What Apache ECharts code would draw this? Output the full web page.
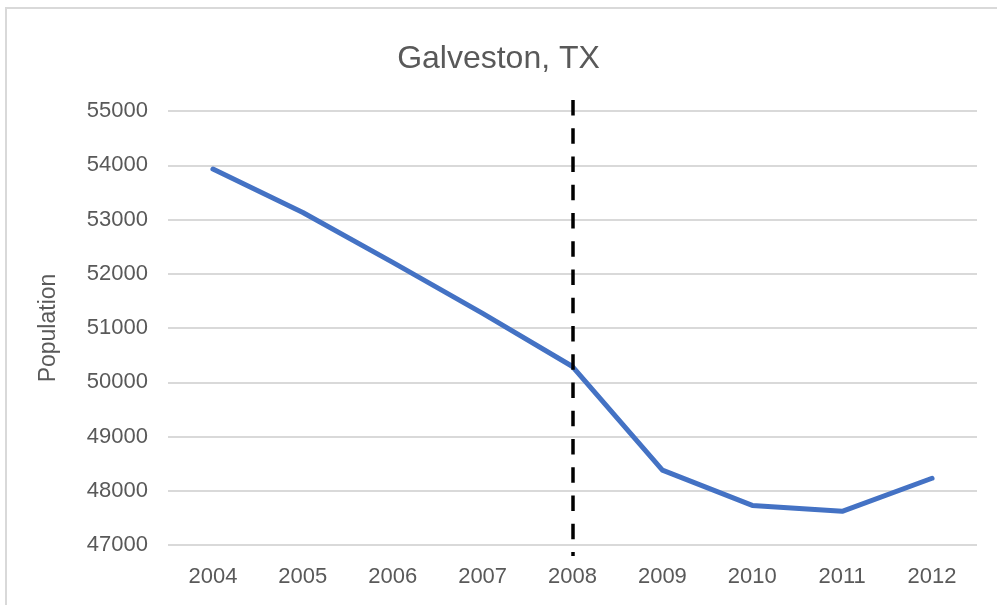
<!DOCTYPE html>
<html>
<head>
<meta charset="utf-8">
<script src="https://cdn.jsdelivr.net/npm/echarts@6/dist/echarts.min.js"></script>
<style>
html,body{margin:0;padding:0;background:#fff;}
#chart{width:997px;height:605px;}
</style>
</head>
<body>
<div id="chart"></div>
<script>
const years = ['2004','2005','2006','2007','2008','2009','2010','2011','2012'];
const population = [53930, 53130, 52210, 51270, 50290, 48380, 47730, 47620, 48230];
const markerYear = '2008';
const markerRange = [55200, 46800];
const yMin = 47000, yMax = 55000, yStep = 1000;

const chart = echarts.init(document.getElementById('chart'));
const textColor = '#595959';
const font = '"Liberation Sans", Arial, sans-serif';
chart.setOption({
  animation: false,
  backgroundColor: '#fff',
  graphic: [{
    type: 'rect', z: -10, silent: true,
    shape: {x: 6, y: 8, width: 1200, height: 800},
    style: {fill: 'none', stroke: '#d9d9d9', lineWidth: 2}
  }],
  title: {
    text: 'Galveston, TX',
    left: 'center',
    top: 38,
    textStyle: {color: textColor, fontFamily: font, fontSize: 32, fontWeight: 'normal'}
  },
  grid: [
    {left: 168, right: 20, top: 111, bottom: 60, containLabel: false},
    {left: 168, right: 20, top: 100, bottom: 49, containLabel: false}
  ],
  xAxis: [{
    type: 'category',
    gridIndex: 0,
    data: years,
    boundaryGap: true,
    axisLine: {show: false},
    axisTick: {show: false},
    axisLabel: {color: textColor, fontFamily: font, fontSize: 22, margin: 21}
  }, {
    type: 'category',
    gridIndex: 1,
    data: years,
    boundaryGap: true,
    show: false
  }],
  yAxis: [{
    type: 'value',
    gridIndex: 0,
    min: yMin, max: yMax, interval: yStep,
    name: 'Population',
    nameLocation: 'middle',
    nameGap: 108,
    nameRotate: 90,
    nameTextStyle: {color: textColor, fontFamily: font, fontSize: 23},
    axisLine: {show: false},
    axisTick: {show: false},
    axisLabel: {color: textColor, fontFamily: font, fontSize: 22, margin: 20, formatter: v => String(v)},
    splitLine: {lineStyle: {color: '#d9d9d9', width: 2}}
  }, {
    type: 'value',
    gridIndex: 1,
    min: markerRange[1], max: markerRange[0],
    show: false,
    splitLine: {show: false}
  }],
  series: [{
    type: 'line',
    xAxisIndex: 0, yAxisIndex: 0,
    data: population,
    symbol: 'none',
    z: 3,
    lineStyle: {color: '#4472C4', width: 5, cap: 'round', join: 'round'}
  }, {
    type: 'line',
    xAxisIndex: 1, yAxisIndex: 1,
    data: [],
    symbol: 'none',
    z: 4,
    markLine: {
      silent: true,
      symbol: 'none',
      animation: false,
      label: {show: false},
      lineStyle: {color: '#000', width: 3.5, type: [15.5, 12.75]},
      data: [[{coord: [markerYear, markerRange[0]]}, {coord: [markerYear, markerRange[1]]}]]
    }
  }]
});
</script>
</body>
</html>
